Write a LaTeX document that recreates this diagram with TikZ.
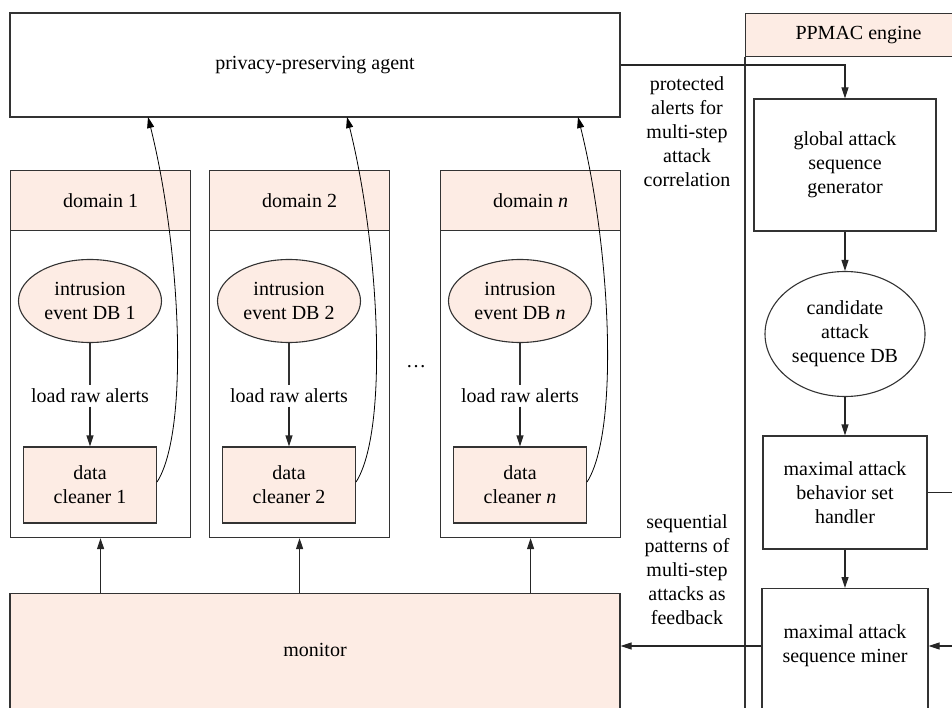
\documentclass[tikz,border=0pt]{standalone}
\usepackage{fontspec}
\setmainfont{Liberation Serif}
\usetikzlibrary{arrows.meta,shapes.geometric,positioning}
\definecolor{peach}{RGB}{253,236,228}
\tikzset{
  box/.style={draw=black!80,line width=1.1pt,rectangle,align=center,inner sep=2pt},
  db/.style={draw=black!80,line width=1.1pt,ellipse,align=center,inner sep=1pt},
  lbl/.style={align=center},
  flow/.style={-{Triangle[length=11pt,width=7pt]},draw=black!85,line width=1.1pt},
  feed/.style={-{Triangle[length=11pt,width=7pt]},draw=black,line width=0.8pt},
}

\begin{document}
\begin{tikzpicture}[x=1pt,y=-1pt,font=\fontsize{20}{24}\selectfont]
  \useasboundingbox (0,0) rectangle (952,708);

  % Agent and monitor
  \node[box,minimum width=610,minimum height=104] (agent) at (315,65) {privacy-preserving agent};
  \node[box,fill=peach,minimum width=610,minimum height=160,anchor=north] (monitor) at (315,593) {};
  \node (monitortext) at (315,650) {monitor};

  % Domains
  \foreach \x/\k/\lab in {10/1/1,209/2/2,440/n/\textit{n}} {
    \node[box,fill=peach,minimum width=180,minimum height=60,anchor=north west] (head\k) at (\x,170) {domain \lab};
    \node[box,minimum width=180,minimum height=307,anchor=north west] (dom\k) at (\x,230) {};
    \node[db,fill=peach,minimum width=143,minimum height=83] (idb\k) at (\x+80,301) {intrusion\\event DB \lab};
    \node (load\k) at (\x+80,396) {load raw alerts};
    \node[box,fill=peach,minimum width=133,minimum height=76] (clean\k) at (\x+80,485) {data\\cleaner \lab};
    \coordinate (up\k) at (\x+138,117);
    \draw[black!80,line width=1.1pt] (idb\k) -- (load\k);
    \draw[flow] (load\k) -- (clean\k);
    \draw[feed] ([yshift=3pt]clean\k.east) .. controls (\x+180,430) and (\x+170,245) .. (up\k);
    \draw[flow] (monitor.north -| dom\k) -- (dom\k.south);
  }
  \node (dots) at (416,367) {\dots};

  % PPMAC engine
  \node[box,fill=peach,minimum width=226,minimum height=43,anchor=north west] (engine) at (745,13) {PPMAC engine};
  \draw[black!80,line width=1.1pt] (engine.south west) -- ++(0,720);
  \node[box,minimum width=182,minimum height=132] (gen) at (845,165) {global attack\\sequence\\generator};
  \node[db,minimum width=160,minimum height=125] (cand) at (845,334) {candidate\\attack\\sequence DB};
  \node[box,minimum width=164,minimum height=113] (handler) at (845,492.5) {maximal attack\\behavior set\\handler};
  \node[box,minimum width=166,minimum height=150,anchor=north] (minerbox) at (845,588) {};
  \node[lbl] (miner) at (845,646) {maximal attack\\sequence miner};
  \coordinate (loop) at (962,0);

  % Labels
  \node[lbl] (protect) at (687,132) {protected\\alerts for\\multi-step\\attack\\correlation};
  \node[lbl] (feedback) at (687,570) {sequential\\patterns of\\multi-step\\attacks as\\feedback};

  % Connectors
  \draw[flow] (agent.east) -| (gen.north);
  \draw[flow] (gen) -- (cand);
  \draw[flow] (cand) -- (handler);
  \draw[flow] (handler) -- (minerbox);
  \draw[flow] (handler.east) -- (handler.east -| loop) |- (miner -| minerbox.east);
  \draw[flow] (miner -| minerbox.west) -- (miner -| monitor.east);
\end{tikzpicture}
\end{document}
